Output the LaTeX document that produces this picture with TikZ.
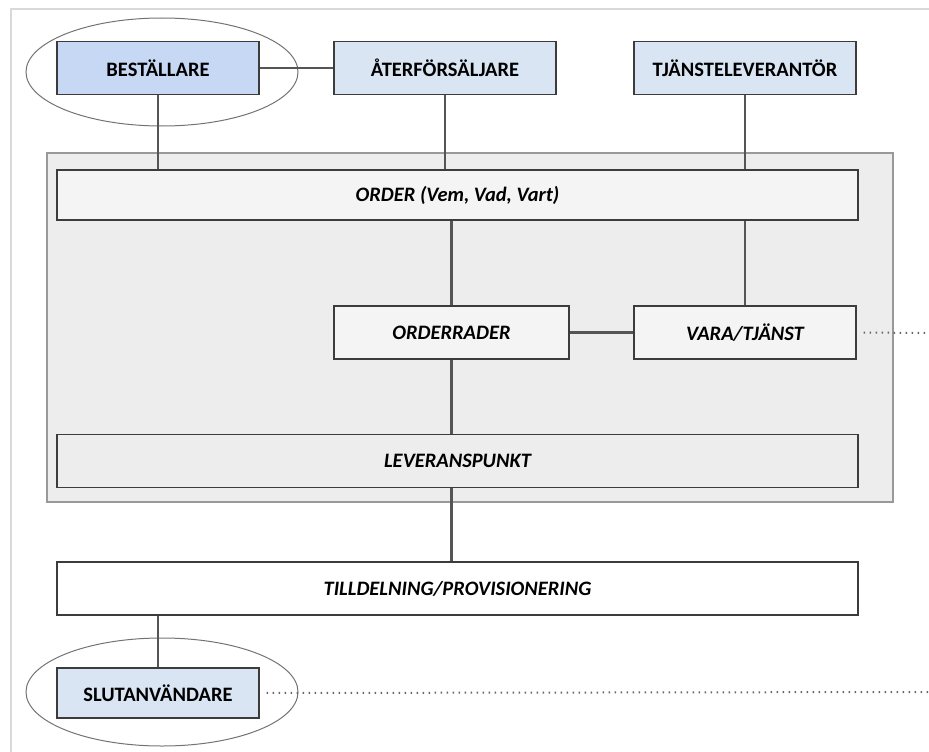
\documentclass[tikz,border=0pt]{standalone}
\usepackage{fontspec}
\setmainfont{Carlito}
\usetikzlibrary{shapes.geometric}
\definecolor{rollbla}{HTML}{C6D8F4}
\definecolor{aktorbla}{HTML}{D9E5F3}
\definecolor{ramgra}{HTML}{EDEDED}
\definecolor{kantgra}{HTML}{3C3C3C}
\definecolor{linjegra}{HTML}{555555}
\tikzset{
	ruta/.style={draw=kantgra, line width=1.3pt, inner sep=0pt, minimum height=53pt},
	aktor/.style={ruta, fill=aktorbla, minimum width=222pt, font=\fontsize{20.5}{22}\selectfont\bfseries},
	objekt/.style={ruta, font=\fontsize{20.5}{22}\selectfont\bfseries\itshape},
	bred/.style={objekt, minimum width=801pt},
	ram/.style={draw=black!40, fill=ramgra, line width=1.3pt, inner sep=0pt},
	ring/.style={ellipse, draw=black!55, line width=1pt, minimum width=272pt, minimum height=108pt},
	led/.style={draw=linjegra, line width=2.2pt},
	prickad/.style={draw=black!60, line width=2pt, dash pattern=on 1.4pt off 4.6pt, shorten <=7pt}
}

\begin{document}
\begin{tikzpicture}[x=1pt, y=-1pt]
			%%%%% START %%%%%
			\useasboundingbox (0, 0) rectangle (929, 752);
			\draw[black!15, line width=1.5pt] (11, 752) -- (11, 9) -- (929, 9);
			
			\node[ring] (bestring) at (162, 72) {};
			\node[ring] (slutring) at (162, 692) {};
			
			\node[ram, minimum width=846pt, minimum height=349pt] (ram) at (470, 327.5) {};
			
			\node[aktor, fill=rollbla, minimum width=202pt] (best) at (158, 68) {BESTÄLLARE};
			\node[aktor] (aterf) at (445, 68) {ÅTERFÖRSÄLJARE};
			\node[aktor] (tjanst) at (745, 68) {TJÄNSTELEVERANTÖR};
			
			\node[bred, fill=ramgra!60, minimum height=50pt] (order) at (457.5, 195) {ORDER (Vem, Vad, Vart)};
			\node[objekt, fill=ramgra!60, minimum width=235pt] (rader) at (451.5, 332.5) {ORDERRADER};
			\node[objekt, fill=ramgra!60, minimum width=222pt] (vara) at (745, 332.5) {VARA/TJÄNST};
			\node[bred, fill=ramgra] (lev) at (457.5, 461) {LEVERANSPUNKT};
			\node[bred, fill=white] (tilldel) at (457.5, 588.5) {TILLDELNING/PROVISIONERING};
			\node[aktor, minimum width=202pt, minimum height=50pt] (slut) at (158, 693) {SLUTANVÄNDARE};
			
			\coordinate (varaslut) at (929, 333);
			\coordinate (slutslut) at (929, 692);
			
			\draw[led] (best.east) -- (aterf.west);
			\draw[led] (best.south) -- (best.south |- order.north);
			\draw[led] (aterf.south) -- (aterf.south |- order.north);
			\draw[led] (tjanst.south) -- (tjanst.south |- order.north);
			\draw[led] (rader.north) -- (rader.north |- order.south);
			\draw[led] (vara.north) -- (vara.north |- order.south);
			\draw[led] (rader.east) -- (vara.west);
			\draw[led] (rader.south) -- (rader.south |- lev.north);
			\draw[led] (lev.south -| rader.south) -- (tilldel.north -| rader.south);
			\draw[led] (slut.north) -- (slut.north |- tilldel.south);
			
			\draw[prickad] (vara.east) -- (varaslut);
			\draw[prickad] (slut.east) -- (slutslut);
			%%%%% END %%%%%
\end{tikzpicture}
\end{document}
